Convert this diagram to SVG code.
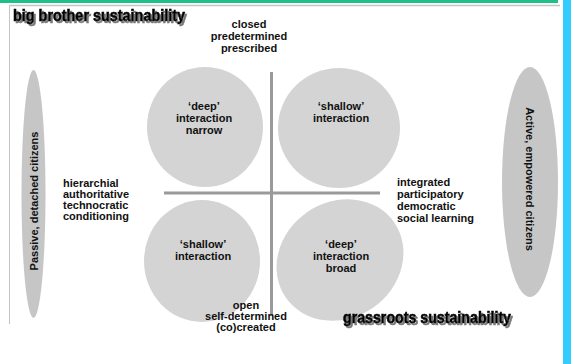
<svg xmlns="http://www.w3.org/2000/svg" width="571" height="364" viewBox="0 0 571 364">
<style>
.t{font-family:"Liberation Sans",Arial,sans-serif;font-weight:bold;font-size:11px;fill:#111}
.c{text-anchor:middle}
.blob{fill:#d4d4d4}
.ell{fill:#c6c6c6}
.axis{stroke:#9a9a9a;stroke-width:3;fill:none}
.ttl{font-family:"Liberation Sans",Arial,sans-serif;font-weight:900;font-size:16px;fill:#000;stroke:#000;stroke-width:0.6;filter:url(#shadow)}
</style>
<defs>
<filter id="shadow" x="-5%" y="-30%" width="110%" height="170%">
<feDropShadow dx="2" dy="2" stdDeviation="0.6" flood-color="#777" flood-opacity="1"/>
</filter>
</defs>
<rect x="0" y="0" width="571" height="364" fill="#fff"/>
<g id="frame">
<rect x="0" y="0" width="558" height="3" fill="#1dbf8a"/>
<line x1="9" y1="5.5" x2="560" y2="5.5" stroke="#c4c4c4" stroke-width="1.5"/>
<line x1="9.5" y1="5" x2="9.5" y2="324" stroke="#c4c4c4" stroke-width="1"/>
<rect x="563" y="0" width="8" height="364" fill="#33ccff"/>
</g>
<g id="title-top">
<text class="ttl" x="13" y="21" textLength="172" lengthAdjust="spacingAndGlyphs">big brother sustainability</text>
</g>
<g id="ellipse-left">
<ellipse class="ell" cx="33.5" cy="194" rx="12" ry="124"/>
<text class="t c" transform="translate(38,201) rotate(-90)">Passive, detached citizens</text>
</g>
<g id="ellipse-right">
<ellipse class="ell" cx="530" cy="182" rx="28" ry="115"/>
<text class="t c" transform="translate(526,179) rotate(90)">Active, empowered citizens</text>
</g>
<g id="q-tl">
<ellipse class="blob" cx="205" cy="127" rx="58" ry="60"/>
<text class="t c" x="204" y="110">‘deep’</text>
<text class="t c" x="204" y="122">interaction</text>
<text class="t c" x="204" y="134">narrow</text>
</g>
<g id="q-tr">
<ellipse class="blob" cx="339" cy="128" rx="61" ry="60"/>
<text class="t c" x="341" y="110">‘shallow’</text>
<text class="t c" x="341" y="122">interaction</text>
</g>
<g id="q-bl">
<ellipse class="blob" cx="202" cy="261" rx="58" ry="61"/>
<text class="t c" x="203" y="248">‘shallow’</text>
<text class="t c" x="203" y="260">interaction</text>
</g>
<g id="q-br">
<ellipse class="blob" cx="0" cy="0" rx="66" ry="58" transform="translate(340,260) rotate(-35)"/>
<text class="t c" x="341" y="248">‘deep’</text>
<text class="t c" x="341" y="260">interaction</text>
<text class="t c" x="341" y="272">broad</text>
</g>
<g id="connectors">
<line class="axis" x1="271.5" y1="72" x2="271.5" y2="316"/>
<line class="axis" x1="164" y1="193" x2="380" y2="193"/>
</g>
<g id="title-bottom">
<text class="ttl" x="343" y="323" textLength="168" lengthAdjust="spacingAndGlyphs">grassroots sustainability</text>
</g>
<g id="label-top">
<text class="t c" x="249" y="28">closed</text>
<text class="t c" x="249" y="40">predetermined</text>
<text class="t c" x="249" y="52">prescribed</text>
</g>
<g id="label-bottom">
<text class="t c" x="246" y="309">open</text>
<text class="t c" x="246" y="320">self-determined</text>
<text class="t c" x="246" y="331">(co)created</text>
</g>
<g id="label-left">
<text class="t" x="63" y="187">hierarchial</text>
<text class="t" x="63" y="198">authoritative</text>
<text class="t" x="63" y="209">technocratic</text>
<text class="t" x="63" y="220">conditioning</text>
</g>
<g id="label-right">
<text class="t" x="397" y="186">integrated</text>
<text class="t" x="397" y="198">participatory</text>
<text class="t" x="397" y="210">democratic</text>
<text class="t" x="397" y="222">social learning</text>
</g>
</svg>
